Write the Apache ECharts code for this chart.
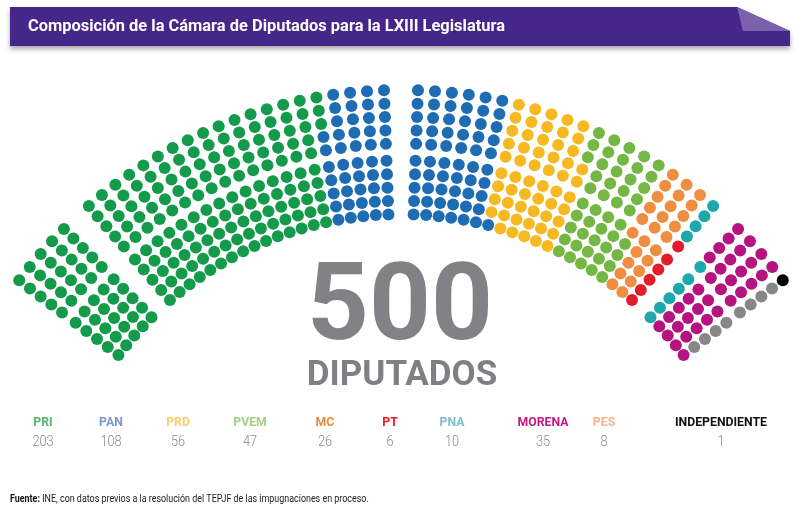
<!DOCTYPE html>
<html>
<head>
<meta charset="utf-8">
<title>Cámara de Diputados LXIII</title>
<script src="https://cdn.jsdelivr.net/npm/echarts@6/dist/echarts.min.js"></script>
<style>html,body{margin:0;padding:0;background:#fff;}</style>
</head>
<body>
<div id="chart" style="width:801px;height:521px;"></div>
<script>
// datos
var partidos = ['PRI', 'PAN', 'PRD', 'PVEM', 'MC', 'PT', 'PNA', 'MORENA', 'PES', 'INDEPENDIENTE'];
var escanos = [203, 108, 56, 47, 26, 6, 10, 35, 8, 1];

// estilos
var colorPunto = ['#139a4a', '#1d6cb4', '#f6b922', '#75b744', '#ef8e40', '#e21d2a', '#1fa7ae', '#b5137f', '#878787', '#000000'];
var colorEtiqueta = ['#5bb36e', '#7d97cf', '#f8cf70', '#a6cf82', '#ef8a3d', '#e3202a', '#7cc1c8', '#be1a82', '#f5b490', '#111111'];
var legendaX = [43, 111, 178, 250, 325, 390, 452, 543, 604, 721];

// geometria del hemiciclo: 10 filas, 50 columnas, 4 bloques
var filas = 10;
var total = escanos.reduce(function (a, b) { return a + b; }, 0);
var columnas = total / filas;
var mitad = total / 2;

function posicion(s) {
    var j, fila;
    if (s < mitad) {
        j = Math.floor(s / filas);
        fila = s % filas;
    } else {
        var t = total - 1 - s;
        j = columnas - 1 - Math.floor(t / filas);
        fila = t % filas;
    }
    var k = j + (j >= 5 ? 1 : 0) + (j >= 25 ? 1 : 0) + (j >= 45 ? 1 : 0);
    var ang = 143 - k * 106 / 52;
    var r = 478 - fila * 13.4 - (fila >= 5 ? 3.6 : 0);
    return [r, ang];
}

// ancho de texto para comprimirlo (fuente condensada)
var ctx = document.createElement('canvas').getContext('2d');
function escala(texto, font, ancho) {
    ctx.font = font;
    return ancho / ctx.measureText(texto).width;
}

var series = [];
var s = 0;
partidos.forEach(function (p, i) {
    var data = [];
    for (var n = 0; n < escanos[i]; n++) {
        data.push(posicion(s));
        s++;
    }
    series.push({
        name: p,
        type: 'scatter',
        coordinateSystem: 'polar',
        symbol: 'circle',
        symbolSize: 12,
        itemStyle: { color: colorPunto[i], opacity: 1 },
        data: data
    });
});

var titulo = 'Composición de la Cámara de Diputados para la LXIII Legislatura';
var fTitulo = 'bold 17px Roboto';
var fuente = 'INE, con datos previos a la resolución del TEPJF de las impugnaciones en proceso.';
var fFuente = '10px Roboto';
var fEtiqueta = 'bold 13px Roboto';
var kEtiqueta = escala('INDEPENDIENTE', fEtiqueta, 92);
var kFuente = escala('Fuente: ' + fuente, fFuente, 358);

var graficos = [
    {
        type: 'polygon',
        shape: { points: [[10, 7], [737, 7], [790, 31], [790, 46], [10, 46]] },
        style: { fill: '#47268a', shadowBlur: 5, shadowOffsetY: 3, shadowColor: 'rgba(0,0,0,0.35)' }
    },
    {
        type: 'polygon',
        shape: { points: [[737, 7], [743, 31], [790, 31]] },
        style: { fill: '#7c62ad' }
    },
    {
        type: 'text', x: 28, y: 27, scaleX: escala(titulo, fTitulo, 477),
        style: {
            text: titulo, fill: '#ffffff', font: fTitulo,
            textVerticalAlign: 'middle'
        }
    },
    {
        type: 'text', x: 400, y: 312,
        style: {
            text: String(total), fill: '#808285', font: 'bold 108px Roboto',
            textAlign: 'center', textVerticalAlign: 'middle'
        }
    },
    {
        type: 'text', x: 402, y: 376,
        style: {
            text: 'DIPUTADOS', fill: '#7e8083', font: 'bold 35px Roboto',
            textAlign: 'center', textVerticalAlign: 'middle'
        }
    },
    {
        type: 'text', x: 10, y: 499, scaleX: kFuente,
        style: {
            text: '{b|Fuente:} ' + fuente,
            fill: '#222222', font: fFuente,
            textVerticalAlign: 'middle',
            rich: { b: { fontWeight: 'bold', fontSize: 10, fontFamily: 'Roboto', fill: '#111' } }
        }
    }
];

partidos.forEach(function (p, i) {
    graficos.push({
        type: 'text', x: legendaX[i], y: 423, scaleX: kEtiqueta,
        style: {
            text: p, fill: colorEtiqueta[i], font: fEtiqueta,
            textAlign: 'center', textVerticalAlign: 'middle'
        }
    });
    graficos.push({
        type: 'text', x: legendaX[i], y: 442, scaleX: 0.85,
        style: {
            text: String(escanos[i]), fill: '#8c8c8c', font: '300 15px Roboto',
            textAlign: 'center', textVerticalAlign: 'middle'
        }
    });
});

var chart = echarts.init(document.getElementById('chart'));
var option = {
    animation: false,
    backgroundColor: '#ffffff',
    polar: { center: [401, 568], radius: 478 },
    radiusAxis: { type: 'value', min: 0, max: 478, show: false },
    angleAxis: { type: 'value', min: 0, max: 360, startAngle: 0, clockwise: false, show: false },
    graphic: graficos,
    series: series
};
chart.setOption(option);
</script>
</body>
</html>
